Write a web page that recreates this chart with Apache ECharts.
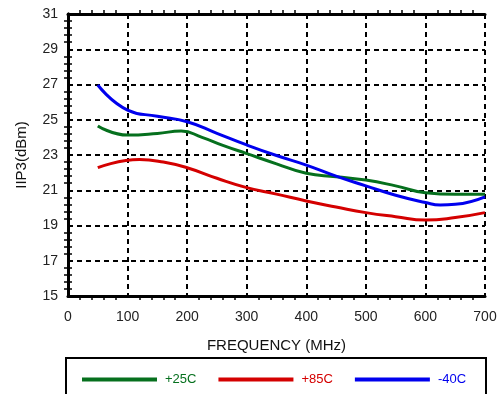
<!DOCTYPE html>
<html><head><meta charset="utf-8">
<script src="https://cdn.jsdelivr.net/npm/echarts@6/dist/echarts.min.js"></script>
<style>html,body{margin:0;padding:0;background:#fff}#c{width:500px;height:394px}</style>
</head><body><div id="c"></div>
<script>
const freq25 = [50,100,150,190,225,260,300,350,400,450,500,550,600,650,700];
const t25 =    [24.65,24.13,24.22,24.36,24.0,23.55,23.08,22.5,21.96,21.77,21.58,21.25,20.86,20.77,20.77];
const freq85 = [50,120,160,200,250,300,350,400,450,500,550,600,650,700];
const t85 =    [22.28,22.74,22.6,22.28,21.68,21.15,20.78,20.39,20.05,19.73,19.5,19.31,19.45,19.73];
const freqM40 = [50,100,150,200,250,300,350,400,450,500,550,600,625,650,700];
const tm40 =    [26.97,25.55,25.2,24.89,24.23,23.57,22.97,22.43,21.8,21.25,20.72,20.3,20.16,20.2,20.63];
const seriesNames = ['+25C','+85C','-40C'];
const colors = ['#06701e','#d40000','#0000ee'];
const xTicks = {min:0,max:700,interval:100};
const yTicks = {min:15,max:31,interval:2};

const font = 'Liberation Sans, Arial, Helvetica, sans-serif';
const chart = echarts.init(document.getElementById('c'));
const pair = (xs,ys) => xs.map((x,i)=>[x,ys[i]]);
const dashed = {show:true,lineStyle:{color:'#000',width:2,type:[5,4]}};
const minor = {show:true,splitNumber:5,length:4,lineStyle:{color:'#000',width:1.5}};
const baseX = {type:'value',min:xTicks.min,max:xTicks.max,interval:xTicks.interval};
const baseY = {type:'value',min:yTicks.min,max:yTicks.max,interval:yTicks.interval};
chart.setOption({
  animation:false,
  grid:{left:68,right:15,top:14,bottom:98},
  xAxis:[
    Object.assign({},baseX,{position:'bottom',name:'FREQUENCY (MHz)',nameLocation:'middle',nameGap:42,
      nameTextStyle:{fontFamily:font,fontSize:15,color:'#111'},
      axisLine:{show:true,lineStyle:{color:'#000',width:3}},
      axisTick:{show:false},minorTick:minor,splitLine:dashed,
      axisLabel:{fontFamily:font,fontSize:14,color:'#222',margin:14}}),
    Object.assign({},baseX,{position:'top',axisLine:{show:true,lineStyle:{color:'#000',width:3}},
      axisTick:{show:false},minorTick:Object.assign({},minor),axisLabel:{show:false},splitLine:{show:false}})
  ],
  yAxis:[
    Object.assign({},baseY,{position:'left',name:'IIP3(dBm)',nameLocation:'middle',nameGap:39,
      nameTextStyle:{fontFamily:font,fontSize:15,color:'#111'},
      axisLine:{show:true,lineStyle:{color:'#000',width:3}},
      axisTick:{show:false},minorTick:minor,splitLine:dashed,
      axisLabel:{fontFamily:font,fontSize:14,color:'#222',margin:10}}),
    Object.assign({},baseY,{position:'right',axisLine:{show:true,lineStyle:{color:'#000',width:3}},
      axisTick:{show:false},minorTick:Object.assign({},minor),axisLabel:{show:false},splitLine:{show:false}})
  ],
  legend:{left:77,top:368,itemWidth:75,itemHeight:4,itemGap:22,icon:'rect',
    data:seriesNames.map((n,i)=>({name:n,textStyle:{color:colors[i],fontFamily:font,fontSize:13,padding:[0,0,0,3]}}))},
  graphic:[{type:'rect',shape:{x:66,y:358,width:420,height:40},style:{fill:'none',stroke:'#000',lineWidth:2}}],
  series:[[freq25,t25],[freq85,t85],[freqM40,tm40]].map((d,i)=>({
    name:seriesNames[i],type:'line',data:pair(d[0],d[1]),smooth:true,showSymbol:false,
    lineStyle:{color:colors[i],width:3},itemStyle:{color:colors[i]}
  }))
});
</script></body></html>
